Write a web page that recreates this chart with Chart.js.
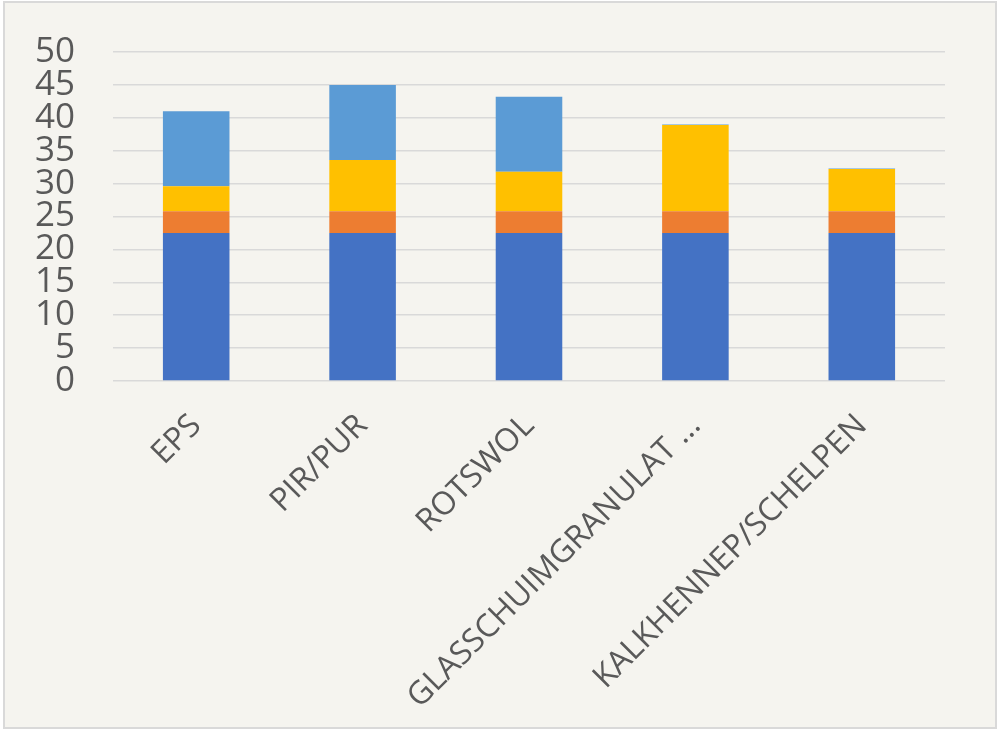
<!DOCTYPE html>
<html lang="nl">
<head>
    <meta charset="UTF-8">
    <title>Isolatiematerialen</title>
    <script src="https://cdn.jsdelivr.net/npm/chart.js"></script>
    <style>
        body {
            margin: 0;
            padding: 0;
            background: #ffffff;
        }

        #frame {
            position: absolute;
            left: 3px;
            top: 1px;
            width: 990px;
            height: 724px;
            border: 2px solid #d9d9d9;
            background: #f5f4ef;
        }

        canvas {
            display: block;
        }
    </style>
</head>
<body>

    <div id="frame">
        <canvas id="materialChart" width="990" height="724"></canvas>
    </div>

    <script>
        const categories = ['EPS', 'PIR/PUR', 'ROTSWOL', 'GLASSCHUIMGRANULAT ...', 'KALKHENNEP/SCHELPEN'];
        const serie1 = [22.5, 22.5, 22.5, 22.5, 22.5];
        const serie2 = [3.3, 3.3, 3.3, 3.3, 3.3];
        const serie3 = [3.8, 7.8, 6.0, 13.1, 6.4];
        const serie4 = [11.4, 11.4, 11.4, 0.1, 0.1];
        const yTicks = [0, 5, 10, 15, 20, 25, 30, 35, 40, 45, 50];

        const textColor = '#595959';
        const fontFamily = '"Open Sans", "DejaVu Sans", sans-serif';

        const ctx = document.getElementById('materialChart').getContext('2d');

        const materialChart = new Chart(ctx, {
            type: 'bar',
            data: {
                labels: categories,
                datasets: [
                    { label: 'Reeks1', data: serie1, backgroundColor: '#4472c4' },
                    { label: 'Reeks2', data: serie2, backgroundColor: '#ed7d31' },
                    { label: 'Reeks3', data: serie3, backgroundColor: '#ffc000' },
                    { label: 'Reeks4', data: serie4, backgroundColor: '#5b9bd5' }
                ]
            },
            options: {
                responsive: false,
                animation: false,
                layout: {
                    padding: { top: 49, right: 50, left: 0, bottom: 0 }
                },
                plugins: {
                    legend: { display: false },
                    tooltip: { enabled: false }
                },
                datasets: {
                    bar: {
                        categoryPercentage: 1.0,
                        barPercentage: 0.4,
                        borderWidth: 0
                    }
                },
                scales: {
                    x: {
                        stacked: true,
                        grid: { display: false },
                        border: { display: false },
                        ticks: {
                            color: textColor,
                            font: { family: fontFamily, size: 32 },
                            minRotation: 45,
                            maxRotation: 45,
                            padding: 18,
                            autoSkip: false
                        },
                        afterFit: function (scale) {
                            scale.height = 346;
                        }
                    },
                    y: {
                        stacked: true,
                        min: 0,
                        max: 50,
                        afterBuildTicks: function (scale) {
                            scale.ticks = yTicks.map(v => ({ value: v }));
                        },
                        grid: {
                            color: '#d9d9d9',
                            lineWidth: 1.5,
                            drawTicks: false
                        },
                        border: { display: false },
                        ticks: {
                            color: textColor,
                            font: { family: fontFamily, size: 35 },
                            padding: 38,
                            autoSkip: false
                        },
                        afterFit: function (scale) {
                            scale.width = 108;
                            // the big tick padding should not push the plot down
                            scale.paddingTop = 0;
                            scale.paddingBottom = 0;
                        }
                    }
                }
            }
        });
    </script>

</body>
</html>
